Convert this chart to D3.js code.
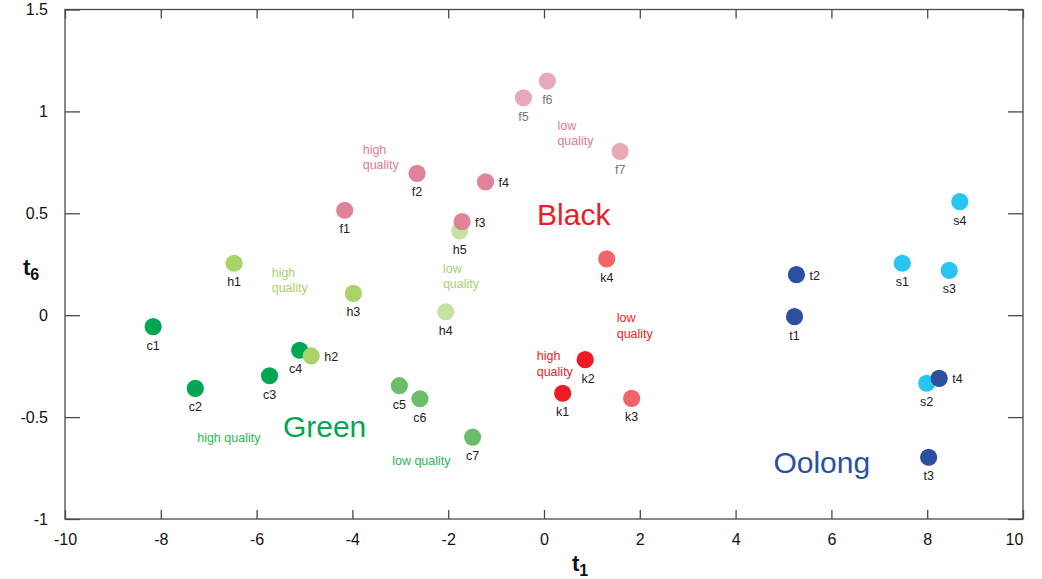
<!DOCTYPE html>
<html><head><meta charset="utf-8">
<script src="https://cdn.jsdelivr.net/npm/d3@7/dist/d3.min.js"></script>
<style>
body{margin:0;background:#fff;}
svg text{font-family:"Liberation Sans",Arial,Helvetica,sans-serif;}
</style></head>
<body><svg id="chart" width="1042" height="579"></svg>
<script>
// ---- data ----
const names  = ["c1","c2","c3","c4","c5","c6","c7","h1","h2","h3","h4","h5","f1","f2","f3","f4","f5","f6","f7","k1","k2","k3","k4","s1","s2","s3","s4","t1","t2","t3","t4"];
const t1vals = [-8.16,-7.28,-5.73,-5.10,-3.02,-2.59,-1.49,-6.47,-4.86,-3.98,-2.05,-1.76,-4.16,-2.65,-1.71,-1.22,-0.43,0.07,1.59,0.39,0.86,1.83,1.31,7.48,7.99,8.46,8.68,5.23,5.27,8.03,8.25];
const t6vals = [-0.056,-0.359,-0.297,-0.172,-0.346,-0.41,-0.598,0.255,-0.200,0.107,0.017,0.413,0.515,0.696,0.459,0.654,1.067,1.149,0.804,-0.383,-0.218,-0.408,0.276,0.255,-0.334,0.220,0.557,-0.007,0.199,-0.697,-0.310];
const groups = ["cH","cH","cH","cH","cL","cL","cL","hH","hH","hH","hL","hL","fH","fH","fH","fH","fL","fL","fL","kH","kH","kL","kL","s","s","s","s","t","t","t","t"];
const labelSide = ["b","b","b","bl","b","b","b","b","r","b","b","b","b","b","r","r","b","b","b","b","br","b","b","b","b","b","b","b","r","b","r"];
const xTicks = [-10,-8,-6,-4,-2,0,2,4,6,8,10];
const yTicks = [-1,-0.5,0,0.5,1,1.5];
const groupNames = ["Green","Black","Oolong"];
const groupNameT1 = [-4.58,0.62,5.80];
const groupNameT6 = [-0.597,0.443,-0.772];
const qualityText = [["high quality"],["low quality"],["high","quality"],["low","quality"],["high","quality"],["low","quality"],["high","quality"],["low","quality"]];
const qualityT1 = [-6.58,-2.56,-5.685,-2.11,-3.785,0.28,-0.152,1.518];
const qualityT6 = [-0.623,-0.737,0.188,0.208,0.793,0.911,-0.222,-0.034];
const qualityGroup = ["cH","cH","hH","hH","fH","fH","kH","kH"];

// ---- styles ----
const fill = {cH:"#00a651",cL:"#6bbd6c",hH:"#a9d26a",hL:"#c7e1a1",fH:"#df8398",fL:"#e8a9b6",kH:"#ed1c24",kL:"#f0646a",s:"#28c5f3",t:"#2b50a0"};
const textCol = {cH:"#2db554",hH:"#a9d26a",fH:"#e07b93",kH:"#ed1c24"};
const nameCol = ["#00a651","#ed1c24","#2b50a0"];
const labelCol = n => (n==="f5"||n==="f6"||n==="f7") ? "#777" : "#222";

const svg = d3.select("#chart");
const x = d3.scaleLinear().domain([-10,10]).range([65,1023]);
const y = d3.scaleLinear().domain([-1,1.5]).range([519,9.5]);
const axisCol = "#4a4a4a";

// frame
svg.append("rect").attr("x",65).attr("y",9.5).attr("width",1023-65).attr("height",519-9.5)
  .attr("fill","none").attr("stroke",axisCol).attr("stroke-width",1.3);

// axes (ticks inward)
const fmt = d => String(d);
const gBottom = svg.append("g").attr("transform","translate(0,519)")
  .call(d3.axisBottom(x).tickValues(xTicks).tickSize(-9).tickPadding(15).tickFormat(fmt));
const gTop = svg.append("g").attr("transform","translate(0,9.5)")
  .call(d3.axisTop(x).tickValues(xTicks).tickSize(-9).tickFormat(""));
const gLeft = svg.append("g").attr("transform","translate(65,0)")
  .call(d3.axisLeft(y).tickValues(yTicks).tickSize(-15).tickPadding(17).tickFormat(fmt));
const gRight = svg.append("g").attr("transform","translate(1023,0)")
  .call(d3.axisRight(y).tickValues(yTicks).tickSize(-15).tickFormat(""));
[gBottom,gTop,gLeft,gRight].forEach(g=>{
  g.select(".domain").remove();
  g.selectAll("line").attr("stroke",axisCol).attr("stroke-width",1.3);
  g.selectAll("text").attr("fill","#111").style("font-size","16px")
   .style("font-family","'Liberation Sans',Arial,sans-serif");
});
gBottom.selectAll(".tick").filter(d=>d===10).select("text").attr("dx",-9);

// axis titles
const xt = svg.append("text").attr("x",580).attr("y",571).attr("text-anchor","middle")
  .style("font-size","22px").style("font-weight","bold").attr("fill","#111");
xt.append("tspan").text("t");
xt.append("tspan").text("1").attr("dy",5).style("font-size","16px");
const yt = svg.append("text").attr("x",31).attr("y",275).attr("text-anchor","middle")
  .style("font-size","22px").style("font-weight","bold").attr("fill","#111");
yt.append("tspan").text("t");
yt.append("tspan").text("6").attr("dy",5).style("font-size","16px");

// data table
const pts = names.map((n,i)=>({n, t1:t1vals[i], t6:t6vals[i], g:groups[i], side:labelSide[i]}));
const order = ["cH","cL","hH","hL","fH","fL","kH","kL","s","t"];
pts.sort((a,b)=>order.indexOf(a.g)-order.indexOf(b.g));

svg.append("g").selectAll("circle").data(pts).join("circle")
  .attr("cx",d=>x(d.t1)).attr("cy",d=>y(d.t6)).attr("r",8.6)
  .attr("fill",d=>fill[d.g]);

// point labels
svg.append("g").selectAll("text").data(pts).join("text")
  .attr("x",d=>{const cx=x(d.t1); return d.side==="r"?cx+13:d.side==="bl"?cx-4:d.side==="br"?cx+3:cx;})
  .attr("y",d=>{const cy=y(d.t6); return d.side==="r"?cy+5:cy+23;})
  .attr("text-anchor",d=>d.side==="r"?"start":"middle")
  .style("font-size","12.5px").attr("fill",d=>labelCol(d.n)).text(d=>d.n);

// quality annotations
qualityText.forEach((lines,i)=>{
  const single = lines.length===1;
  const t = svg.append("text").attr("x",x(qualityT1[i])).attr("y",y(qualityT6[i]))
    .attr("text-anchor",single?"middle":"start")
    .style("font-size","12.5px").attr("fill",textCol[qualityGroup[i]]);
  lines.forEach((l,j)=>t.append("tspan").attr("x",x(qualityT1[i])).attr("dy",j?15.5:0).text(l));
});

// group names
svg.append("g").selectAll("text").data(groupNames).join("text")
  .attr("x",(d,i)=>x(groupNameT1[i])).attr("y",(d,i)=>y(groupNameT6[i]))
  .attr("text-anchor","middle").style("font-size","30px").attr("fill",(d,i)=>nameCol[i]).text(d=>d);
</script></body></html>
